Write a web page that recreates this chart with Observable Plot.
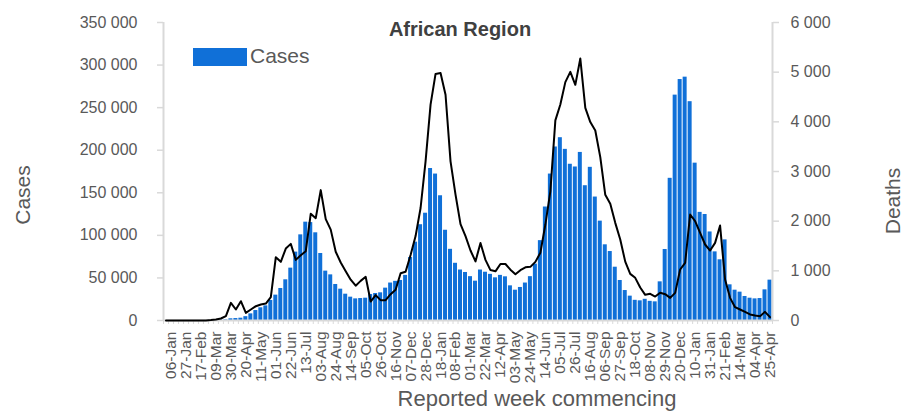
<!DOCTYPE html>
<html>
<head>
<meta charset="utf-8">
<script src="https://cdn.jsdelivr.net/npm/d3@7"></script>
<script src="https://cdn.jsdelivr.net/npm/@observablehq/plot@0.6"></script>
<style>
  html, body { margin: 0; padding: 0; background: #fff; }
  svg { display: block; }
</style>
</head>
<body>
<div id="chart"></div>
<script>
// Week commencing (Monday), 30-Dec-2019 .. 25-Apr-2022
const weeks = [
  "30-Dec",
  "06-Jan","13-Jan","20-Jan","27-Jan","03-Feb","10-Feb","17-Feb","24-Feb","02-Mar","09-Mar","16-Mar","23-Mar","30-Mar",
  "06-Apr","13-Apr","20-Apr","27-Apr","04-May","11-May","18-May","25-May","01-Jun","08-Jun","15-Jun","22-Jun","29-Jun",
  "06-Jul","13-Jul","20-Jul","27-Jul","03-Aug","10-Aug","17-Aug","24-Aug","31-Aug","07-Sep","14-Sep","21-Sep","28-Sep",
  "05-Oct","12-Oct","19-Oct","26-Oct","02-Nov","09-Nov","16-Nov","23-Nov","30-Nov","07-Dec","14-Dec","21-Dec","28-Dec",
  "04-Jan","11-Jan","18-Jan","25-Jan","01-Feb","08-Feb","15-Feb","22-Feb","01-Mar","08-Mar","15-Mar","22-Mar","29-Mar",
  "05-Apr","12-Apr","19-Apr","26-Apr","03-May","10-May","17-May","24-May","31-May","07-Jun","14-Jun","21-Jun","28-Jun",
  "05-Jul","12-Jul","19-Jul","26-Jul","02-Aug","09-Aug","16-Aug","23-Aug","30-Aug","06-Sep","13-Sep","20-Sep","27-Sep",
  "04-Oct","11-Oct","18-Oct","25-Oct","01-Nov","08-Nov","15-Nov","22-Nov","29-Nov","06-Dec","13-Dec","20-Dec","27-Dec",
  "03-Jan","10-Jan","17-Jan","24-Jan","31-Jan","07-Feb","14-Feb","21-Feb","28-Feb","07-Mar","14-Mar","21-Mar","28-Mar",
  "04-Apr","11-Apr","18-Apr","25-Apr"
];

const cases = [
  0, 0, 0, 0, 0, 0, 0, 0, 10, 50,
  200, 500, 700, 2000, 2300, 2700, 4500, 7800, 11700, 14900,
  17200, 23500, 29800, 37600, 47800, 61500, 80300, 100600, 115500, 115000,
  103000, 78700, 58000, 53600, 42300, 36800, 30900, 27400, 25400, 25800,
  26200, 30500, 31700, 32500, 38000, 44000, 46000, 47000, 53000, 74000,
  92000, 112500, 126000, 178500, 172000, 146500, 106000, 83600, 67200, 59300,
  56400, 51500, 46200, 59300, 56700, 54200, 50100, 53000, 51300, 40700,
  35600, 38800, 44000, 51500, 66200, 93800, 133300, 172000, 203800, 214700,
  201000, 183500, 180300, 197400, 158300, 179900, 145000, 116700, 88900, 81000,
  62600, 47000, 35200, 28600, 23700, 23100, 24900, 22500, 21900, 45400,
  83400, 167000, 264700, 283000, 285800, 257000, 184800, 127000, 124500, 104000,
  80600, 71300, 94700, 41900, 35600, 33300, 28200, 26200, 25400, 25800,
  36000, 47400
];

const deaths = [
  0, 0, 0, 0, 0, 0, 0, 0, 2, 8,
  20, 40, 90, 356, 221, 389, 154, 221, 288, 322,
  342, 470, 1275, 1181, 1449, 1543, 1221, 1315, 1396, 2150,
  2060, 2625, 2040, 1830, 1385, 1168, 993, 822, 700, 798,
  880, 382, 510, 410, 410, 530, 620, 950, 980, 1320,
  1700, 2265, 3205, 4345, 4965, 4985, 4545, 3205, 2535, 1940,
  1700, 1410, 1190, 1560, 1220, 1015, 990, 1138, 1138, 1023,
  930, 1013, 1070, 1080, 1180, 1365, 1932, 2600, 4030, 4348,
  4800, 5006, 4745, 5274, 4281, 3995, 3825, 3290, 2530, 2350,
  1966, 1631, 1185, 939, 859, 665, 517, 537, 483, 560,
  530, 456, 557, 1027, 1161, 2134, 2000, 1765, 1530, 1409,
  1563, 1912, 825, 456, 268, 221, 174, 121, 101, 87,
  174, 67
];

const caseTicks = [0, 50000, 100000, 150000, 200000, 250000, 300000, 350000];
const deathTicks = [0, 1000, 2000, 3000, 4000, 5000, 6000];

const title = "African Region";
const xTitle = "Reported week commencing";
const yLeftTitle = "Cases";
const yRightTitle = "Deaths";
const legendLabel = "Cases";

// ---- build ----
const rows = weeks.map((w, i) => ({i, week: w, cases: cases[i], deaths: deaths[i]}));
const k = caseTicks[caseTicks.length - 1] / deathTicks[deathTicks.length - 1];
const fmt = v => d3.format(",")(v).replace(/,/g, " ");
const barColor = "#1070d8";
const grey = "#d9d9d9";
const textColor = "#595959";
const FONT = "Liberation Sans, Arial, sans-serif";
const n = weeks.length;
const labelIdx = d3.range(n).filter(i => i % 3 === 1);
const edges = d3.range(n + 1).map(i => i - 0.5);

const plot = Plot.plot({
  width: 905,
  height: 412,
  marginLeft: 163,
  marginRight: 133,
  marginTop: 22,
  marginBottom: 92,
  style: {fontFamily: FONT, background: "white", overflow: "visible"},
  x: {type: "linear", domain: [-0.5, n - 0.5], axis: null, label: null},
  y: {domain: [0, caseTicks[caseTicks.length - 1]], axis: null, label: null},
  marks: [
    Plot.rectY(rows, {x1: d => d.i - 0.4, x2: d => d.i + 0.4, y: "cases", fill: barColor}),
    Plot.ruleY([0], {stroke: grey, strokeWidth: 2}),
    Plot.ruleX([-0.5], {stroke: grey, strokeWidth: 2}),
    Plot.ruleX([n - 0.5], {stroke: grey, strokeWidth: 2}),
    Plot.axisX({ticks: edges, tickSize: 4, tickFormat: () => "", stroke: grey, strokeWidth: 1, label: null}),
    Plot.axisX({ticks: labelIdx, tickSize: 0, tickPadding: 11, tickRotate: -90, label: null,
      tickFormat: i => weeks[i], fontSize: 15.5, fill: textColor}),
    Plot.axisY({ticks: caseTicks, tickSize: 6, tickFormat: () => "", stroke: grey, strokeWidth: 1.5, label: null}),
    Plot.axisY({ticks: caseTicks, tickSize: 0, tickPadding: 26, tickFormat: fmt, fontSize: 16, fill: textColor, label: null}),
    Plot.axisY({anchor: "right", ticks: deathTicks.map(d => d * k), tickSize: 6, tickFormat: () => "", stroke: grey, strokeWidth: 1.5, label: null}),
    Plot.axisY({anchor: "right", ticks: deathTicks.map(d => d * k), tickSize: 0, tickPadding: 18, label: null,
      tickFormat: v => fmt(Math.round(v / k)), fontSize: 16, fill: textColor}),
    Plot.lineY(rows, {x: "i", y: d => d.deaths * k, stroke: "black", strokeWidth: 2, strokeLinejoin: "round"})
  ]
});

const svg = d3.select(plot);
svg.append("text").attr("x", 460).attr("y", 36).attr("text-anchor", "middle")
  .attr("font-family", FONT).attr("font-size", 20).attr("font-weight", "bold").attr("fill", "#404040")
  .text(title);
svg.append("text").attr("transform", "translate(30,195) rotate(-90)").attr("text-anchor", "middle")
  .attr("font-family", FONT).attr("font-size", 21).attr("fill", textColor).text(yLeftTitle);
svg.append("text").attr("transform", "translate(900,201) rotate(-90)").attr("text-anchor", "middle")
  .attr("font-family", FONT).attr("font-size", 21).attr("fill", textColor).text(yRightTitle);
svg.append("text").attr("x", 537).attr("y", 406).attr("text-anchor", "middle")
  .attr("font-family", FONT).attr("font-size", 22).attr("fill", textColor).text(xTitle);
svg.append("rect").attr("x", 193).attr("y", 48).attr("width", 54).attr("height", 18).attr("fill", barColor);
svg.append("text").attr("x", 250).attr("y", 63).attr("text-anchor", "start")
  .attr("font-family", FONT).attr("font-size", 21).attr("fill", textColor).text(legendLabel);

document.getElementById("chart").appendChild(plot);
</script>
</body>
</html>
